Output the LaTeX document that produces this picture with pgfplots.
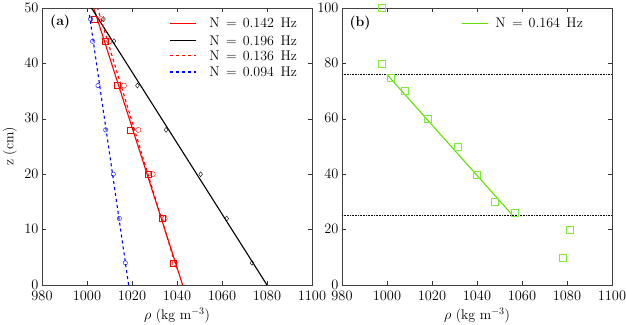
\documentclass[border=0pt]{standalone}
\usepackage{pgfplots}
\pgfplotsset{compat=1.18}
\definecolor{lgreen}{RGB}{100,225,0}
\definecolor{sqgreen}{RGB}{125,235,60}
\newcommand{\ent}[1]{N\hspace{6.5pt}=\hspace{6pt}#1\hspace{6.5pt}Hz}
\pgfplotsset{
  panel/.style={
    scale only axis, width=270pt, height=277pt,
    xmin=980, xmax=1100, xtick={980,1000,...,1100},
    tick align=inside, major tick length=4pt,
    tick style={black!80, line width=0.4pt},
    axis line style={line width=0.6pt, black!75},
    xlabel={$\rho$ (kg m$^{-3}$)},
    label style={font=\fontsize{14}{16}\selectfont},
    xlabel style={at={(axis description cs:0.5,-0.110)}, anchor=center},
    tick label style={font=\fontsize{14}{16}\selectfont},
    xticklabel style={yshift=-2.5pt},
    yticklabel style={yshift=0.5pt},
    /pgf/number format/1000 sep={},
    clip=false,
  },
}
\tikzset{leg/.style={anchor=west, inner sep=0pt, font=\fontsize{14}{16}\selectfont}}
\begin{document}
\begin{tikzpicture}[font=\fontsize{14}{16}\selectfont]
\path[use as bounding box] (-42pt,-39pt) rectangle (584pt,285pt);
% (a)
\begin{axis}[panel, at={(0,0)}, ymin=0, ymax=50, ytick={0,10,...,50},
  ylabel={z (cm)},
  ylabel style={at={(axis description cs:-0.119,0.5)}, anchor=center}]
\addplot[color=red, line width=1.1pt] coordinates {(1042.5,0) (1003,50)};
\addplot[color=black, line width=1.1pt] coordinates {(1080,0) (1002,50)};
\addplot[color=red, dashed, line width=1.1pt] coordinates {(1039.8,3) (1004.7,50)};
\addplot[color=blue, dashed, line width=1.1pt] coordinates {(1018.5,0) (1001,49)};
% N = 0.142 Hz, squares
\addplot[color=red, only marks, mark=square, mark size=3pt,
  mark options={solid, draw=red}] coordinates {
  (1038.1,4) (1033.3,12) (1027.0,20) (1019.1,28) (1013.2,36) (1008.1,44) (1003.3,48)};
% N = 0.196 Hz, diamonds
\addplot[color=black, only marks, mark=diamond, mark size=2.5pt,
  mark options={solid, draw=black}] coordinates {
  (1073.3,4) (1062.1,12) (1050.5,20) (1035.1,28) (1022.4,36) (1012.0,44) (1007.3,48)};
% N = 0.136 Hz, circles
\addplot[color=red, only marks, mark=o, mark size=2.6pt,
  mark options={solid, draw=red}] coordinates {
  (1039.0,4) (1034.5,12) (1029.2,20) (1022.8,28) (1016.4,36) (1009.9,44) (1006.2,48)};
% N = 0.094 Hz, circles
\addplot[color=blue, only marks, mark=o, mark size=2.2pt,
  mark options={solid, draw=blue}] coordinates {
  (1017.0,4) (1014.4,12) (1011.7,20) (1008.3,28) (1004.9,36) (1002.5,44) (1001.6,48)};
% legend
\draw[red, line width=1.1pt] (axis description cs:0.474,0.945) -- (axis description cs:0.570,0.945);
\node[leg] at (axis description cs:0.619,0.945) {\ent{0.142}};
\draw[black, line width=1.1pt] (axis description cs:0.474,0.882) -- (axis description cs:0.570,0.882);
\node[leg] at (axis description cs:0.619,0.882) {\ent{0.196}};
\draw[red, dashed, line width=1.1pt] (axis description cs:0.474,0.827) -- (axis description cs:0.570,0.827);
\node[leg] at (axis description cs:0.619,0.827) {\ent{0.136}};
\draw[blue, dashed, line width=1.1pt] (axis description cs:0.474,0.769) -- (axis description cs:0.570,0.769);
\node[leg] at (axis description cs:0.619,0.769) {\ent{0.094}};
\node[font=\fontsize{14}{16}\selectfont\bfseries] at (rel axis cs:0.067,0.95) {(a)};
\end{axis}
% (b)
\begin{axis}[panel, at={(300pt,0)}, ymin=0, ymax=100, ytick={0,20,...,100}]
\addplot[color=lgreen, line width=1.1pt] coordinates {(1000,76) (1056,25)};
\addplot[black, densely dotted, line width=0.6pt] coordinates {(980,76) (1100,76)};
\addplot[black, densely dotted, line width=0.6pt] coordinates {(980,25) (1100,25)};
\addplot[color=sqgreen, only marks, mark=square, mark size=3.5pt,
  mark options={solid, draw=sqgreen}] coordinates {
  (997.8,100) (997.8,80) (1001.6,75) (1007.7,70) (1018.1,60) (1031.6,50)
  (1039.9,40) (1048.0,30) (1056.9,26) (1081.0,20) (1078.1,10)};
\draw[lgreen, line width=1.1pt] (axis description cs:0.443,0.945) -- (axis description cs:0.541,0.945);
\node[leg] at (axis description cs:0.567,0.945) {\ent{0.164}};
\node[font=\fontsize{14}{16}\selectfont\bfseries] at (rel axis cs:0.067,0.945) {(b)};
\end{axis}
\end{tikzpicture}
\end{document}
